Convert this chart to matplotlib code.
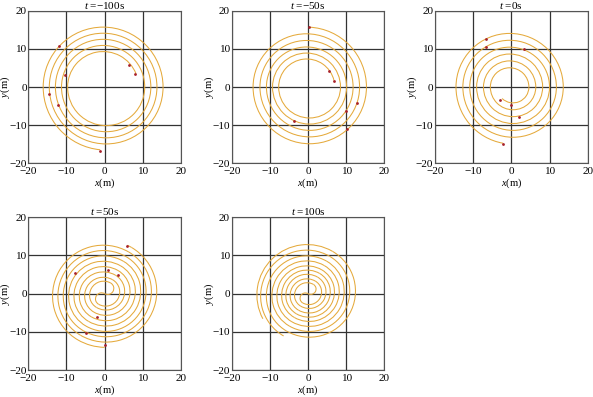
import numpy as np
import matplotlib
matplotlib.use("Agg")
import matplotlib.pyplot as plt
from matplotlib.patches import Arc

plt.rcParams['font.family'] = ['Liberation Serif', 'DejaVu Serif']
plt.rcParams['mathtext.fontset'] = 'custom'
plt.rcParams['mathtext.rm'] = 'Liberation Serif'
plt.rcParams['mathtext.it'] = 'Liberation Serif:italic'

times = ["\u2212100", "\u221250", "0", "50", "100"]

# where each arm of the trace crosses its axis line (m), from inner end to outer end
arms_m100 = [[8.9, -9.7, 10.5, -11.3, 12.1, -12.9, 13.7, -14.5, 15.3, -16.1, 16.9]]
arms_m50 = [[7.0, -7.7, 8.5, -9.3, 10.1, -10.9, 11.8, -12.6, 13.5, -14.4, 15.3, -16.1]]
arms_0 = [[-3.7, 4.6, -5.5, 6.4, -7.3, 8.2, -9.1, 10.0, -10.9, 11.8, -12.7, 13.6, -14.5, 15.4]]
arms_50 = [[0, 3.2, -4.2, 5.6, -7.0, 8.4, -9.8, 11.2, -12.6, 14.0, -15.0],
           [0, -3.2, 4.2, -5.6, 7.0, -8.4, 9.8, -11.2, 12.6, -14.0, 15.0]]
arms_100 = [[0, 2.8, -3.8, 5.0, -6.1, 7.2, -8.5, 9.8, -11.3, 12.8, -13.6],
            [0, -2.8, 3.8, -5.0, 6.1, -7.2, 8.5, -9.8, 11.3, -12.8]]

# (inner end, outer end) of every arm in m, None = the arm runs to a crossing
ends_m100 = [((7.9, 3.4), (-1.2, -16.8))]
ends_m50 = [((6.7, 1.7), (0.3, 15.8))]
ends_0 = [((-2.9, -3.5), (-2.2, -14.9))]
ends_50 = [(None, (5.9, 12.6)), (None, (0.0, -13.4))]
ends_100 = [(None, (-11.7, -6.5)), (None, None)]

# red markers (x, y) in m
dots_m100 = [(-11.9, 10.8), (-10.5, 3.1), (-14.5, -1.8), (-12.1, -4.7), (-1.2, -16.8),
             (6.4, 5.8), (7.9, 3.4)]
dots_m50 = [(0.3, 15.8), (5.5, 4.3), (6.7, 1.7), (12.9, -4.1), (9.9, -6.3),
            (10.3, -11.1), (-3.8, -9.0)]
dots_0 = [(-6.6, 12.5), (-6.6, 10.4), (3.4, 10.0), (-2.9, -3.5), (-0.2, -4.8),
          (2.1, -7.9), (-2.2, -14.9)]
dots_50 = [(5.9, 12.6), (-7.7, 5.3), (1.0, 6.2), (3.5, 4.8), (-2.1, -6.2),
           (-4.9, -10.4), (0.0, -13.4)]
dots_100 = []

arms = [arms_m100, arms_m50, arms_0, arms_50, arms_100]
ends = [ends_m100, ends_m50, ends_0, ends_50, ends_100]
dots = [dots_m100, dots_m50, dots_0, dots_50, dots_100]
axis_deg = [0, 0, 0, 60, 60]

ticks = [-20, -10, 0, 10, 20]
line_col = '#E5AA3C'
dot_col = '#A8202A'


def end_angle(pt, ctr, phi, lo):
    ang = np.degrees(np.arctan2(pt[1] - ctr[1], pt[0] - ctr[0])) - phi
    return lo + (ang - lo) % 360


def draw_arm(ax, cross, phi, p_in, p_out):
    c, s = np.cos(np.radians(phi)), np.sin(np.radians(phi))
    n = len(cross) - 1
    for i in range(n):
        a, b = cross[i], cross[i + 1]
        mid = (a + b) / 2
        r = abs(b - a) / 2
        ctr = (mid * c, mid * s)
        t1, t2 = (0, 180) if b < a else (180, 360)
        if i == 0 and p_in is not None:
            t1 = end_angle(p_in, ctr, phi, t1)
        if i == n - 1 and p_out is not None:
            t2 = end_angle(p_out, ctr, phi, t1)
        ax.add_patch(Arc(ctr, 2 * r, 2 * r, angle=phi, theta1=t1, theta2=t2,
                         color=line_col, lw=0.75))


W, H = 593, 397
boxes = [(28.3, 10.7), (231.7, 10.7), (435.0, 10.7), (28.3, 217.3), (231.7, 217.3)]
side = 152.7

fig = plt.figure(figsize=(W / 100, H / 100), dpi=100)
for i in range(5):
    x0, y0 = boxes[i]
    ax = fig.add_axes([x0 / W, 1 - (y0 + side) / H, side / W, side / H])
    for arm, (p_in, p_out) in zip(arms[i], ends[i]):
        draw_arm(ax, arm, axis_deg[i], p_in, p_out)
    if dots[i]:
        dx, dy = zip(*dots[i])
        ax.plot(dx, dy, 'o', ms=2.0, color=dot_col, mec='none', zorder=3)
    ax.set_xlim(-20, 20)
    ax.set_ylim(-20, 20)
    ax.set_xticks(ticks)
    ax.set_yticks(ticks)
    ax.grid(True, color='#333333', lw=0.9)
    ax.set_axisbelow(True)
    for sp in ax.spines.values():
        sp.set_color('#555555')
        sp.set_linewidth(0.8)
    ax.tick_params(axis='x', length=0, pad=2.8, labelsize=8.1)
    ax.tick_params(axis='y', length=0, pad=1.2, labelsize=8.1)
    ax.set_xlabel('$x$(m)', fontsize=7.6, labelpad=0.3)
    ax.set_ylabel('$y$(m)', fontsize=7.6)
    ax.yaxis.set_label_coords(-16.0 / side, 0.5)
    ax.set_title('$t$ =' + times[i] + 's', fontsize=8, pad=1.5)

fig.savefig('out.png', dpi=100)
